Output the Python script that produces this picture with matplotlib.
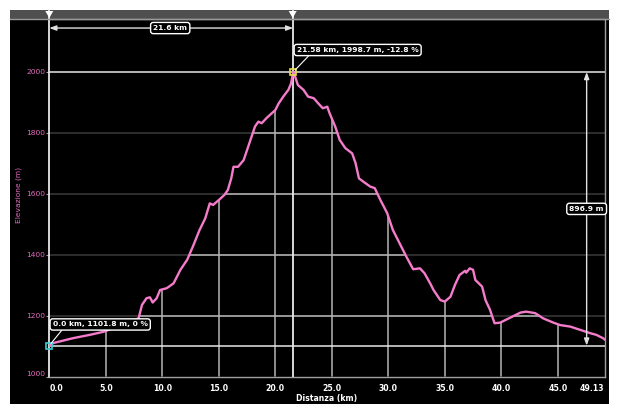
import matplotlib
matplotlib.use("Agg")
import matplotlib.pyplot as plt
from matplotlib.patches import Rectangle, Polygon
import numpy as np

# ---- data ----
dist_km = [0.0, 0.35, 2.1, 3.6, 4.8, 6.0, 7.1, 7.9, 8.2, 8.6, 8.9, 9.15, 9.5, 9.8,
           10.4, 11.0, 11.6, 12.2, 12.7, 13.3, 13.8, 14.2, 14.5, 15.0, 15.5, 15.8,
           16.1, 16.3, 16.7, 17.2, 17.6, 18.2, 18.5, 18.8, 19.2, 19.7, 20.0, 20.3,
           20.7, 21.15, 21.4, 21.58, 21.75, 22.0, 22.5, 22.9, 23.4, 23.8, 24.2,
           24.6, 24.8, 25.3, 25.7, 26.2, 26.8, 27.1, 27.4, 27.8, 28.4, 28.8, 29.3,
           29.9, 30.4, 31.0, 31.6, 32.2, 32.8, 33.2, 33.7, 34.0, 34.6, 35.0, 35.5,
           35.9, 36.3, 36.8, 36.9, 37.2, 37.5, 37.7, 38.0, 38.3, 38.6, 39.0, 39.4,
           39.9, 40.5, 41.1, 41.7, 42.2, 43.0, 43.7, 44.6, 45.2, 46.1, 47.0, 47.9,
           48.4, 49.0, 49.13]
elev_m = [1101.8, 1110, 1126, 1137, 1147, 1164, 1180, 1191, 1235, 1257, 1260, 1243,
          1257, 1284, 1290, 1306, 1350, 1383, 1426, 1481, 1519, 1568, 1563, 1579,
          1596, 1612, 1650, 1688, 1688, 1710, 1754, 1820, 1836, 1831, 1847, 1864,
          1874, 1896, 1918, 1940, 1962, 1998.7, 1984, 1956, 1940, 1918, 1913, 1896,
          1880, 1885, 1864, 1820, 1776, 1749, 1732, 1700, 1650, 1639, 1623, 1618,
          1579, 1536, 1481, 1437, 1393, 1352, 1355, 1339, 1306, 1284, 1251, 1246,
          1262, 1301, 1333, 1347, 1341, 1355, 1350, 1317, 1306, 1295, 1251, 1219,
          1175, 1177, 1188, 1199, 1210, 1213, 1208, 1191, 1177, 1169, 1164, 1153,
          1142, 1137, 1126, 1122]

y_ticks = [1000, 1200, 1400, 1600, 1800, 2000]
x_ticks = [0, 5, 10, 15, 20, 25, 30, 35, 40, 45, 49.13]
x_tick_labels = ["0.0", "5.0", "10.0", "15.0", "20.0", "25.0", "30.0", "35.0",
                 "40.0", "45.0", "49.13"]

start_label = "0.0 km, 1101.8 m, 0 %"
peak_label = "21.58 km, 1998.7 m, -12.8 %"
dist_label = "21.6 km"
gain_label = "896.9 m"
x_title = "Distanza (km)"
y_title = "Elevazione (m)"

PINK = "#f47ccb"
PINK_TXT = "#e36cbf"

W, H = 620, 415
fig = plt.figure(figsize=(6.2, 4.15), dpi=100, facecolor="white")

def fx(px): return px / W
def fy(py): return 1 - py / H

fig.patches.append(Rectangle((fx(10), fy(404)), fx(609) - fx(10), fy(10) - fy(404),
                             transform=fig.transFigure, facecolor="black",
                             edgecolor="none", zorder=-5))
fig.patches.append(Rectangle((fx(10), fy(19.5)), fx(609) - fx(10), fy(10) - fy(19.5),
                             transform=fig.transFigure, facecolor="#4f4f4f",
                             edgecolor="none", zorder=-4))

ax = fig.add_axes([fx(49.3), fy(376.6), fx(604.5) - fx(49.3), fy(19.5) - fy(376.6)])
ax.set_zorder(2)
ax.set_facecolor("black")
ax.set_xlim(0, 49.13)
ax.set_ylim(1000, 2171)

x = np.array(dist_km)
y = np.array(elev_m)

verts = [(x[0], 1000)] + list(zip(x, y)) + [(x[-1], 1000)]
under = Polygon(verts, closed=True, facecolor="none", edgecolor="none",
                transform=ax.transData)
ax.add_patch(under)

for yt in y_ticks[1:-1]:
    ax.axhline(yt, color="#3a3a3a", lw=1.1, zorder=1)
    l = ax.axhline(yt, color="#b5b5b5", lw=1.1, zorder=2)
    l.set_clip_path(under)
for xt in x_ticks[1:-1]:
    l = ax.axvline(xt, color="#b5b5b5", lw=1.1, zorder=2)
    l.set_clip_path(under)

ax.axhline(elev_m[0], color="#e8e8e8", lw=1.1, zorder=3)
ax.axhline(max(elev_m), color="#e8e8e8", lw=1.1, zorder=3)
peak_i = int(np.argmax(y))
ax.axvline(x[peak_i], color="#e8e8e8", lw=1.3, zorder=3)

ax.plot(x, y, color=PINK, lw=1.7, zorder=5, solid_joinstyle="round")

ax.plot([x[0]], [y[0]], marker="s", ms=5, mfc="none", mec="#35d0d8", mew=1.2,
        zorder=7, clip_on=False)
ax.plot([x[peak_i]], [y[peak_i]], marker="s", ms=5, mfc="none", mec="#e8e040",
        mew=1.2, zorder=7, clip_on=False)

box = dict(boxstyle="round,pad=0.35,rounding_size=0.35", fc="black", ec="white", lw=1.0)
tkw = dict(color="white", fontsize=5.4, fontweight="bold", zorder=8)

ax.annotate(start_label, xy=(x[0], y[0]), xytext=(0.3, 1171), ha="left", va="center",
            bbox=box, arrowprops=dict(arrowstyle="-", color="white", lw=0.8,
                                      shrinkA=0, shrinkB=2, relpos=(0.12, 0.0)), **tkw)
ax.annotate(peak_label, xy=(x[peak_i], y[peak_i]), xytext=(21.9, 2071),
            ha="left", va="center", bbox=box,
            arrowprops=dict(arrowstyle="-", color="white", lw=0.8,
                            shrinkA=0, shrinkB=2, relpos=(0.12, 0.0)), **tkw)

ax.annotate("", xy=(0, 2143), xytext=(x[peak_i], 2143),
            arrowprops=dict(arrowstyle="<|-|>,head_length=0.4,head_width=0.15",
                            color="#e0e0e0", lw=1.0, shrinkA=0, shrinkB=0), zorder=6)
ax.text(10.7, 2143, dist_label, ha="center", va="center", bbox=box, **tkw)

ax.annotate("", xy=(47.55, y[0]), xytext=(47.55, y[peak_i]),
            arrowprops=dict(arrowstyle="<|-|>,head_length=0.4,head_width=0.15",
                            color="#e0e0e0", lw=1.0, shrinkA=0, shrinkB=0), zorder=6)
ax.text(47.55, 1550, gain_label, ha="center", va="center", bbox=box, **tkw)

ax.spines["left"].set_color("#e8e8e8"); ax.spines["left"].set_linewidth(1.3)
for s in ["right", "bottom", "top"]:
    ax.spines[s].set_color("#a0a0a0"); ax.spines[s].set_linewidth(1.0)

ax.set_yticks(y_ticks)
ax.set_yticklabels([str(v) for v in y_ticks], color=PINK_TXT, fontsize=5.4)
ax.get_yticklabels()[0].set_va("bottom")
ax.set_xticks(x_ticks)
ax.set_xticklabels(x_tick_labels, color="white", fontsize=5.6, fontweight="bold")
xl = ax.get_xticklabels()
xl[0].set_ha("left")
xl[-1].set_ha("right")
ax.tick_params(axis="y", length=2, color="#a0a0a0", pad=1)
ax.tick_params(axis="x", length=0, pad=5)

for xp in [49.3, 292.7]:
    fig.lines.append(plt.Line2D([fx(xp), fx(xp)], [fy(10), fy(19.5)],
                                transform=fig.transFigure, color="#e8e8e8", lw=1.3))
    fig.patches.append(Polygon([(fx(xp - 4), fy(11)), (fx(xp + 4), fy(11)),
                                (fx(xp), fy(18))], closed=True,
                               transform=fig.transFigure, facecolor="white",
                               edgecolor="none", zorder=3))
fig.lines.append(plt.Line2D([fx(10), fx(609)], [fy(19.5), fy(19.5)],
                            transform=fig.transFigure, color="#9a9a9a", lw=1.0))

fig.text(fx(327), fy(398), x_title, color="white", fontsize=5.6, fontweight="bold",
         ha="center", va="center")
fig.text(fx(18.5), fy(195), y_title, color=PINK_TXT, fontsize=5.4, rotation=90,
         ha="center", va="center")

fig.savefig("out.png", dpi=100, facecolor="white")
